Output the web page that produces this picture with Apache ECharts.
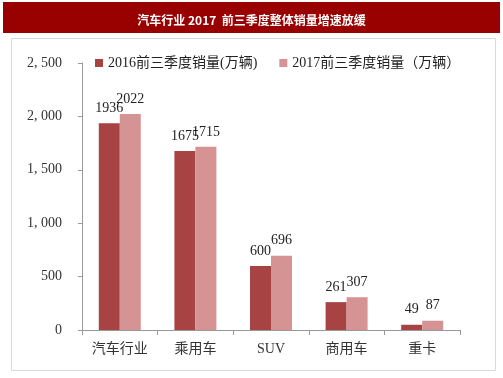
<!DOCTYPE html>
<html>
<head>
<meta charset="utf-8">
<script src="https://cdn.jsdelivr.net/npm/echarts@6/dist/echarts.min.js"></script>
<style>
  html, body { margin: 0; padding: 0; background: #fff; }
  #chart { width: 503px; height: 378px; }
</style>
</head>
<body>
<div id="chart"></div>
<script>
var categories = ["汽车行业", "乘用车", "SUV", "商用车", "重卡"];
var sales2016 = [1936, 1675, 600, 261, 49];
var sales2017 = [2022, 1715, 696, 307, 87];
var seriesNames = ["2016前三季度销量(万辆)", "2017前三季度销量（万辆）"];

var FONT = "'Liberation Serif', 'DejaVu Serif', 'Noto Sans CJK SC', serif";

function thousands(v) {
  var s = String(v);
  if (v >= 1000) {
    s = s.slice(0, s.length - 3) + ", " + s.slice(s.length - 3);
  }
  return s;
}

var myChart = echarts.init(document.getElementById("chart"));
var option = {
  animation: false,
  graphic: [
    {
      type: "rect",
      shape: { x: 3, y: 2, width: 497, height: 31 },
      style: { fill: "#990000" },
      silent: true
    },
    {
      type: "rect",
      shape: { x: 11.5, y: 38.5, width: 484, height: 332 },
      style: { fill: "none", stroke: "#d9d9d9", lineWidth: 1 },
      silent: true
    }
  ],
  title: {
    text: "汽车行业 2017  前三季度整体销量增速放缓",
    left: "center",
    top: 9,
    textStyle: {
      color: "#fff",
      fontSize: 12,
      fontWeight: "bold",
      fontFamily: "'Noto Sans CJK SC', sans-serif"
    }
  },
  legend: {
    data: seriesNames,
    left: 90,
    top: 51,
    itemWidth: 8,
    itemHeight: 8,
    itemGap: 22,
    icon: "rect",
    textStyle: {
      color: "#222",
      fontSize: 14,
      fontFamily: FONT
    }
  },
  grid: {
    left: 82,
    right: 43,
    top: 63,
    bottom: 48
  },
  xAxis: {
    type: "category",
    data: categories,
    axisLine: { lineStyle: { color: "#999" } },
    axisTick: { show: true, length: 5, lineStyle: { color: "#999" } },
    axisLabel: {
      interval: 0,
      hideOverlap: false,
      color: "#333",
      fontSize: 14,
      margin: 12,
      fontFamily: FONT
    }
  },
  yAxis: {
    type: "value",
    min: 0,
    max: 2500,
    interval: 500,
    axisLine: { show: true, lineStyle: { color: "#999" } },
    axisTick: { show: true, inside: false, length: 4, lineStyle: { color: "#999" } },
    splitLine: { show: false },
    axisLabel: {
      color: "#333",
      fontSize: 14,
      margin: 20,
      fontFamily: FONT,
      formatter: thousands
    }
  },
  series: [
    {
      name: seriesNames[0],
      type: "bar",
      data: sales2016,
      barWidth: 21,
      barGap: 0,
      itemStyle: { color: "#a84343" },
      label: {
        show: true,
        position: "top",
        distance: 8,
        color: "#222",
        fontSize: 14,
        fontFamily: FONT
      }
    },
    {
      name: seriesNames[1],
      type: "bar",
      data: sales2017,
      barWidth: 21,
      barGap: 0,
      itemStyle: { color: "#d59393" },
      label: {
        show: true,
        position: "top",
        distance: 8,
        color: "#222",
        fontSize: 14,
        fontFamily: FONT
      }
    }
  ]
};
myChart.setOption(option);
</script>
</body>
</html>
